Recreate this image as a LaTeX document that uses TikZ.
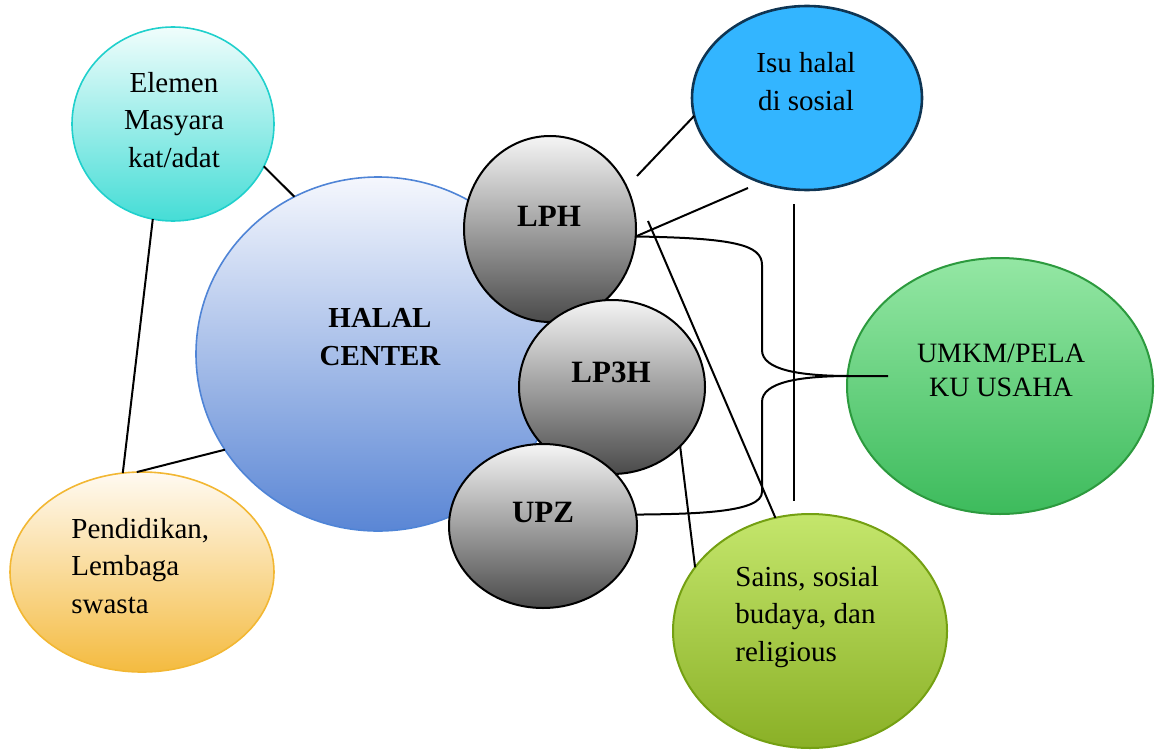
\documentclass[tikz,border=0pt]{standalone}
\usepackage{fontspec}
\setmainfont{Liberation Serif}
\usetikzlibrary{shapes.geometric}
\definecolor{elemTop}{HTML}{F0FDFC}
\definecolor{elemBot}{HTML}{45DDD6}
\definecolor{elemLine}{HTML}{20D0CC}
\definecolor{halTop}{HTML}{F5F7FD}
\definecolor{halBot}{HTML}{5A86D5}
\definecolor{halLine}{HTML}{4F84D6}
\definecolor{penTop}{HTML}{FFFAF2}
\definecolor{penBot}{HTML}{F4BB40}
\definecolor{penLine}{HTML}{F2B733}
\definecolor{umkTop}{HTML}{94E7A4}
\definecolor{umkBot}{HTML}{3DBB5C}
\definecolor{umkLine}{HTML}{2C9A3E}
\definecolor{saiTop}{HTML}{C4E66C}
\definecolor{saiBot}{HTML}{8AB026}
\definecolor{saiLine}{HTML}{74A012}
\definecolor{isuFill}{HTML}{33B5FF}
\definecolor{isuLine}{HTML}{0F3553}
\definecolor{grTop}{HTML}{F5F5F5}
\definecolor{grBot}{HTML}{4A4A4A}
\begin{document}
\begin{tikzpicture}[x=0.5pt,y=-0.5pt,
  bubble/.style={ellipse,inner sep=0pt,outer sep=0pt},
  greyball/.style={bubble,top color=grTop,bottom color=grBot,draw=black,line width=1pt},
  conn/.style={draw=black,line width=1pt},
  txt/.style={font=\fontsize{14.5}{18.8}\selectfont,inner sep=0pt,anchor=base},
  btxt/.style={font=\fontsize{15.5}{19}\selectfont\bfseries,inner sep=0pt,anchor=base}]
\useasboundingbox (0,0) rectangle (1155,749);

% bubbles
\node[bubble,top color=halTop,bottom color=halBot,draw=halLine,line width=0.8pt,
  minimum width=182pt,minimum height=177pt] (halal) at (378,354) {};
\node[bubble,top color=elemTop,bottom color=elemBot,draw=elemLine,line width=0.8pt,
  minimum width=101pt,minimum height=97pt] (elemen) at (173,124) {};
\node[bubble,top color=penTop,bottom color=penBot,draw=penLine,line width=0.8pt,
  minimum width=132pt,minimum height=100pt] (pend) at (142,572) {};
\node[bubble,fill=isuFill,draw=isuLine,line width=1.3pt,
  minimum width=115pt,minimum height=92pt] (isu) at (807,98) {};
\node[bubble,top color=umkTop,bottom color=umkBot,draw=umkLine,line width=1pt,
  minimum width=153pt,minimum height=128pt] (umkm) at (1000,386) {};
\node[bubble,top color=saiTop,bottom color=saiBot,draw=saiLine,line width=1pt,
  minimum width=137pt,minimum height=117pt] (sains) at (810,631) {};
\node[greyball,minimum width=86pt,minimum height=93pt] (lph) at (550,229) {};
\node[greyball,minimum width=93pt,minimum height=87pt] (lp3h) at (612,387) {};
\node[greyball,minimum width=94pt,minimum height=82pt] (upz) at (543,526) {};

% texts
\node[txt] (telemen) at (174,92) {\begin{tabular}[t]{@{}c@{}}Elemen\\Masyara\\kat/adat\end{tabular}};
\node[txt] (tisu) at (806,73) {\begin{tabular}[t]{@{}c@{}}Isu halal\\di sosial\end{tabular}};
\node[txt,anchor=base west] (tpend) at (71,538) {\begin{tabular}[t]{@{}l@{}}Pendidikan,\\Lembaga\\swasta\end{tabular}};
\node[txt,anchor=base west] (tsains) at (735,586) {\begin{tabular}[t]{@{}l@{}}Sains, sosial\\budaya, dan\\religious\end{tabular}};
\node[txt,font=\fontsize{14}{17}\selectfont] (tumkm) at (1001,362) {\begin{tabular}[t]{@{}c@{}}UMKM/PELA\\KU USAHA\end{tabular}};
\node[btxt,font=\fontsize{14.5}{19}\selectfont\bfseries] (thalal) at (380,327) {\begin{tabular}[t]{@{}c@{}}HALAL\\CENTER\end{tabular}};
\node[btxt] (tlph) at (549,226) {LPH};
\node[btxt] (tlp3h) at (611,382) {LP3H};
\node[btxt] (tupz) at (543,522) {UPZ};

% connectors
\coordinate (a1) at (637,176);
\coordinate (a2) at (748,188);
\coordinate (a3) at (648,221);
\coordinate (v1) at (794,204);
\coordinate (v2) at (794,501);
\coordinate (tip) at (888,376);
\coordinate (mid) at (850,376);

\draw[conn] (elemen.-25) -- (halal.118);
\draw[conn] (elemen.-102) -- (pend.101);
\draw[conn] (pend.93) -- (halal.-148);
\draw[conn] (a1) -- (isu.-171);
\draw[conn] (lph.-5) -- (a2);
\draw[conn] (a3) -- (sains.107);
\draw[conn] (v1) -- (v2);
\draw[conn] (lp3h.-41) -- (sains.151);
\draw[conn] (lph.-5) .. controls (735,238) and (762,245) .. (762,265) -- (762,350)
  .. controls (762,370) and (800,376) .. (mid) -- (tip);
\draw[conn] (mid) .. controls (800,376) and (762,382) .. (762,402) -- (762,492)
  .. controls (762,512) and (700,514) .. (upz.7);
\end{tikzpicture}
\end{document}
